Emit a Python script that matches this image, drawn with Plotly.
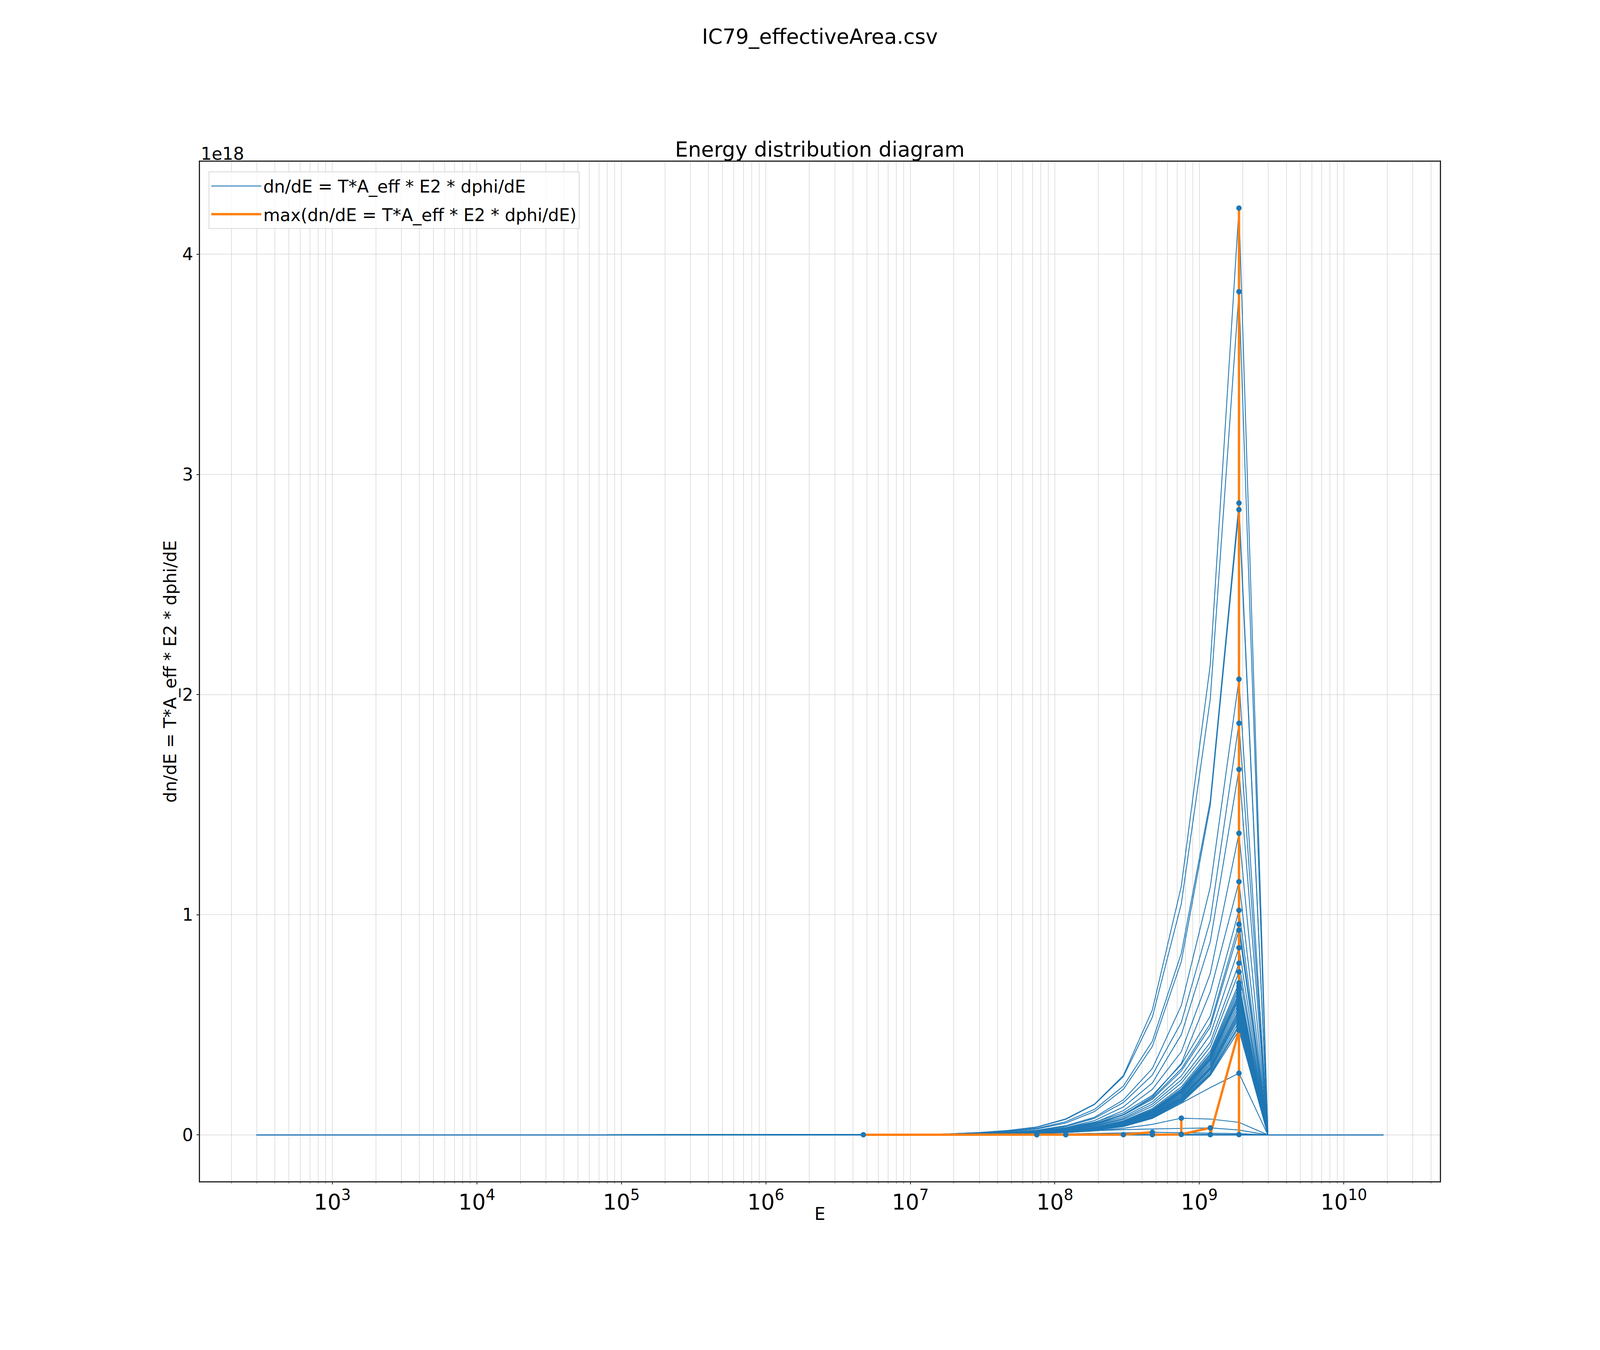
import numpy as np
import plotly.graph_objects as go

# energy grid (x), every curve is 0 at the first and the last two points
E = [2.98e2, 4.73e6, 7.5e6, 1.19e7, 1.88e7, 2.98e7, 4.73e7, 7.5e7, 1.19e8,
     1.88e8, 2.98e8, 4.73e8, 7.5e8, 1.19e9, 1.88e9, 2.98e9, 1.88e10]

# dn/dE values, in units of 1e18, one row per curve (order = order of the max line)
low_curves = [
    [0, 0.0008, 0, 0, 0, 0, 0, 0, 0, 0, 0, 0, 0, 0, 0, 0, 0],
    [0, 0, 0, 0, 0, 0, 0.0003, 0.0006, 0.0004, 0.0002, 0, 0, 0, 0, 0, 0, 0],
    [0, 0, 0, 0, 0, 0, 0, 0.0004, 0.0008, 0.0005, 0.0003, 0, 0, 0, 0, 0, 0],
    [0, 0, 0, 0, 0, 0, 0, 0, 0, 0.0008, 0.0012, 0.0009, 0.0005, 0, 0, 0, 0],
    [0, 0, 0, 0, 0, 0, 0, 0.002, 0.004, 0.006, 0.009, 0.012, 0.010, 0.009, 0.006, 0, 0],
    [0, 0, 0, 0, 0, 0, 0, 0, 0, 0, 0.0006, 0.0009, 0.0007, 0.0004, 0, 0, 0],
    [0, 0, 0, 0, 0, 0, 0, 0, 0, 0, 0, 0.0015, 0.002, 0.0018, 0.001, 0, 0],
    [0, 0, 0, 0, 0, 0.001, 0.003, 0.006, 0.011, 0.018, 0.030, 0.048, 0.076, 0.072, 0.057, 0, 0],
    [0, 0, 0, 0, 0, 0, 0, 0, 0, 0, 0.001, 0.002, 0.003, 0.0025, 0.0015, 0, 0],
    [0, 0, 0, 0, 0, 0, 0.004, 0.009, 0.015, 0.020, 0.024, 0.027, 0.030, 0.032, 0.022, 0, 0],
    [0, 0, 0, 0, 0, 0, 0, 0, 0, 0, 0, 0, 0.0008, 0.0012, 0.0006, 0, 0],
]

mid_curves = [
    [0, 0, 0, 0.0003, 0.0008, 0.0018, 0.0035, 0.0065, 0.012, 0.021, 0.038, 0.075, 0.145, 0.270, 0.475, 0, 0],
    [0, 0, 0, 0.0003, 0.0008, 0.0019, 0.0037, 0.0068, 0.012, 0.022, 0.040, 0.078, 0.150, 0.275, 0.490, 0, 0],
    [0, 0, 0, 0.0004, 0.0009, 0.0020, 0.0039, 0.0072, 0.013, 0.023, 0.041, 0.080, 0.152, 0.280, 0.500, 0, 0],
    [0, 0, 0, 0.0004, 0.0009, 0.0021, 0.0040, 0.0074, 0.013, 0.024, 0.043, 0.083, 0.156, 0.287, 0.515, 0, 0],
    [0, 0, 0, 0.0004, 0.0010, 0.0022, 0.0042, 0.0077, 0.014, 0.025, 0.044, 0.085, 0.160, 0.295, 0.530, 0, 0],
    [0, 0, 0, 0.0004, 0.0010, 0.0023, 0.0044, 0.0081, 0.015, 0.026, 0.046, 0.088, 0.164, 0.300, 0.540, 0, 0],
    [0, 0, 0, 0.0004, 0.0010, 0.0023, 0.0045, 0.0082, 0.015, 0.026, 0.047, 0.090, 0.168, 0.305, 0.550, 0, 0],
    [0, 0, 0, 0.0005, 0.0011, 0.0024, 0.0046, 0.0085, 0.016, 0.027, 0.048, 0.092, 0.170, 0.310, 0.560, 0, 0],
    [0, 0, 0, 0.0005, 0.0011, 0.0025, 0.0048, 0.0088, 0.016, 0.028, 0.050, 0.094, 0.175, 0.318, 0.570, 0, 0],
    [0, 0, 0, 0.0005, 0.0012, 0.0026, 0.0050, 0.0092, 0.017, 0.029, 0.052, 0.097, 0.180, 0.325, 0.585, 0, 0],
    [0, 0, 0, 0.0005, 0.0012, 0.0027, 0.0052, 0.0095, 0.017, 0.030, 0.053, 0.100, 0.185, 0.333, 0.600, 0, 0],
    [0, 0, 0, 0.0005, 0.0012, 0.0028, 0.0054, 0.0098, 0.018, 0.031, 0.055, 0.103, 0.190, 0.340, 0.615, 0, 0],
    [0, 0, 0, 0.0006, 0.0013, 0.0029, 0.0055, 0.0100, 0.018, 0.032, 0.056, 0.105, 0.193, 0.345, 0.625, 0, 0],
    [0, 0, 0, 0.0006, 0.0013, 0.0029, 0.0056, 0.0102, 0.019, 0.032, 0.057, 0.107, 0.196, 0.350, 0.635, 0, 0],
    [0, 0, 0, 0.0006, 0.0014, 0.0030, 0.0058, 0.0105, 0.019, 0.033, 0.058, 0.109, 0.200, 0.356, 0.645, 0, 0],
    [0, 0, 0, 0.0006, 0.0014, 0.0031, 0.0060, 0.0108, 0.020, 0.034, 0.060, 0.112, 0.205, 0.363, 0.660, 0, 0],
    [0, 0, 0, 0.0006, 0.0015, 0.0032, 0.0062, 0.0112, 0.020, 0.035, 0.062, 0.115, 0.210, 0.370, 0.675, 0, 0],
    [0, 0, 0, 0.0007, 0.0015, 0.0033, 0.0064, 0.0116, 0.021, 0.036, 0.064, 0.120, 0.218, 0.380, 0.690, 0, 0],
    [0, 0, 0, 0.0007, 0.0016, 0.0036, 0.0070, 0.0125, 0.023, 0.040, 0.070, 0.130, 0.235, 0.400, 0.740, 0, 0],
    [0, 0, 0, 0.0008, 0.0018, 0.0039, 0.0075, 0.0135, 0.025, 0.043, 0.075, 0.140, 0.250, 0.420, 0.780, 0, 0],
    [0, 0, 0, 0.0008, 0.0019, 0.0042, 0.0082, 0.0145, 0.027, 0.047, 0.082, 0.150, 0.268, 0.455, 0.850, 0, 0],
    [0, 0, 0, 0.0009, 0.0020, 0.0045, 0.0088, 0.0155, 0.029, 0.051, 0.090, 0.162, 0.290, 0.490, 0.930, 0, 0],
    [0, 0, 0, 0.0009, 0.0021, 0.0047, 0.0091, 0.0162, 0.030, 0.053, 0.093, 0.168, 0.300, 0.505, 0.957, 0, 0],
    [0, 0, 0, 0.0010, 0.0023, 0.0052, 0.0100, 0.0178, 0.033, 0.058, 0.100, 0.180, 0.320, 0.540, 1.020, 0, 0],
]

high_curves = [
    [0, 0, 0, 0.0007, 0.0017, 0.0038, 0.0070, 0.0125, 0.024, 0.047, 0.091, 0.174, 0.325, 0.650, 1.150, 0, 0],
    [0, 0, 0, 0.0008, 0.0020, 0.0044, 0.0082, 0.0145, 0.028, 0.056, 0.110, 0.207, 0.378, 0.733, 1.370, 0, 0],
    [0, 0, 0, 0.0010, 0.0023, 0.0051, 0.0095, 0.0170, 0.033, 0.065, 0.127, 0.236, 0.455, 0.878, 1.660, 0, 0],
    [0, 0, 0, 0.0011, 0.0026, 0.0058, 0.0108, 0.0195, 0.038, 0.075, 0.147, 0.272, 0.511, 0.975, 1.870, 0, 0],
    [0, 0, 0, 0.0012, 0.0029, 0.0064, 0.0120, 0.0215, 0.042, 0.080, 0.159, 0.302, 0.588, 1.126, 2.070, 0, 0],
    [0, 0, 0, 0.0015, 0.0036, 0.0080, 0.0150, 0.0270, 0.054, 0.106, 0.207, 0.402, 0.787, 1.497, 2.840, 0, 0],
    [0, 0, 0, 0.0017, 0.0040, 0.0090, 0.0165, 0.0300, 0.060, 0.116, 0.222, 0.426, 0.825, 1.518, 2.870, 0, 0],
    [0, 0, 0, 0.0020, 0.0047, 0.0105, 0.0195, 0.0350, 0.071, 0.138, 0.265, 0.535, 1.050, 1.980, 3.830, 0, 0],
    [0, 0, 0, 0.0021, 0.0049, 0.0108, 0.0200, 0.0360, 0.073, 0.140, 0.270, 0.568, 1.130, 2.136, 4.210, 0, 0],
    [0, 0, 0, 0.0003, 0.0007, 0.0015, 0.0028, 0.0052, 0.010, 0.020, 0.038, 0.075, 0.144, 0.215, 0.280, 0, 0],
]

flat_curve = [0, 0, 0, 0, 0, 0, 0, 0, 0, 0, 0, 0, 0.0004, 0.0008, 0.0015, 0, 0]

curves = low_curves + mid_curves + high_curves + [flat_curve]

# maximum of every curve
peak_E = []
peak_val = []
for row in curves:
    i = int(np.argmax(row))
    peak_E.append(E[i])
    peak_val.append(row[i])

BLUE = "#1f77b4"
ORANGE = "#ff7f0e"
FONT = "DejaVu Sans"

fig = go.Figure()

for k, row in enumerate(curves):
    fig.add_trace(go.Scatter(
        x=E, y=row, mode="lines",
        line=dict(color=BLUE, width=2.2),
        name="dn/dE = T*A_eff * E2 * dphi/dE",
        legendgroup="a",
        showlegend=(k == 0),
        hoverinfo="skip",
    ))

fig.add_trace(go.Scatter(
    x=peak_E, y=peak_val, mode="lines",
    line=dict(color=ORANGE, width=6),
    name="max(dn/dE = T*A_eff * E2 * dphi/dE)",
    legendgroup="b",
))

fig.add_trace(go.Scatter(
    x=peak_E, y=peak_val, mode="markers",
    marker=dict(color=BLUE, size=14),
    showlegend=False,
))

# matplotlib-like 5% margins
lx = np.log10(E)
span = lx.max() - lx.min()
x_range = [lx.min() - 0.05 * span, lx.max() + 0.05 * span]
ymax = max(peak_val)
y_range = [-0.05 * ymax, ymax * 1.05]

# page is 4096 x 3456, body has an 8 px margin
W, H = 4080, 3440
ML, MR, MT, MB = 504, 402, 406, 424
plot_h = H - MT - MB
plot_w = W - ML - MR


def py(fig_y):
    return (H - MB - fig_y) / plot_h


def px_(fig_x):
    return (fig_x - ML) / plot_w


grid = "#c4c4c4"
fig.update_layout(
    width=W, height=H,
    margin=dict(l=ML, r=MR, t=MT, b=MB),
    paper_bgcolor="white", plot_bgcolor="white",
    font=dict(family=FONT, size=44, color="black"),
    showlegend=True,
    legend=dict(
        x=0.0069, y=0.9904, xanchor="left", yanchor="top",
        bgcolor="rgba(255,255,255,0.8)", bordercolor="#d8d8d8", borderwidth=2,
        font=dict(family=FONT, size=44), tracegroupgap=12, itemwidth=128,
    ),
    xaxis=dict(
        type="log", range=x_range, dtick=1, exponentformat="power",
        showexponent="all",
        showgrid=True, gridcolor=grid, gridwidth=1.3,
        showline=True, mirror=True, linecolor="#222222", linewidth=2.5,
        ticks="outside", ticklen=5, tickwidth=1.5, tickcolor="#222222",
        zeroline=False,
        minor=dict(dtick="D1", showgrid=True, gridcolor=grid, gridwidth=1.3,
                   ticks="outside", ticklen=3, tickwidth=1, tickcolor="#222222"),
        tickfont=dict(size=44),
    ),
    yaxis=dict(
        range=y_range, dtick=1,
        showgrid=True, gridcolor=grid, gridwidth=1.3,
        showline=True, mirror=True, linecolor="#222222", linewidth=2.5,
        ticks="outside", ticklen=6, tickwidth=1.5, tickcolor="#222222",
        zeroline=False, tickfont=dict(size=44),
    ),
    annotations=[
        dict(text="IC79_effectiveArea.csv", xref="paper", yref="paper",
             x=0.5, y=py(86), xanchor="center", yanchor="middle",
             showarrow=False, font=dict(size=53)),
        dict(text="Energy distribution diagram", xref="paper", yref="paper",
             x=0.5, y=py(374), xanchor="center", yanchor="middle",
             showarrow=False, font=dict(size=53)),
        dict(text="1e18", xref="paper", yref="paper",
             x=0, y=py(386), xanchor="left", yanchor="middle",
             showarrow=False, font=dict(size=44)),
        dict(text="E", xref="paper", yref="paper",
             x=0.5, y=py(3099), xanchor="center", yanchor="middle",
             showarrow=False, font=dict(size=44)),
        dict(text="dn/dE = T*A_eff * E2 * dphi/dE", xref="paper", yref="paper",
             x=px_(428), y=0.5, xanchor="center", yanchor="middle",
             textangle=-90, showarrow=False, font=dict(size=44)),
    ],
)

fig.write_html("out.html", config={"displayModeBar": False})
